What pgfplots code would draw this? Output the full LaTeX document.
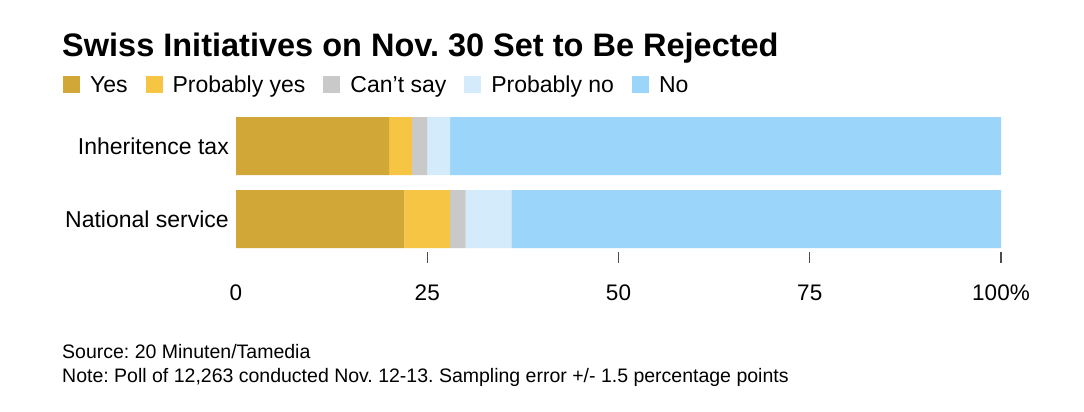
\documentclass[border=0pt]{standalone}
\usepackage{pgfplots}
\pgfplotsset{compat=1.18}
\usepackage{fontspec}
\setmainfont{Liberation Sans}
\frenchspacing
\definecolor{cyes}{HTML}{D1A738}
\definecolor{cpyes}{HTML}{F6C544}
\definecolor{ccs}{HTML}{C9C9C9}
\definecolor{cpno}{HTML}{D4EBFB}
\definecolor{cno}{HTML}{9BD5FA}
\begin{document}
\begin{tikzpicture}
\useasboundingbox (0,0) rectangle (1084bp,412bp);
\fill[white] (0,0) rectangle (1084bp,412bp);
\node[anchor=base west, inner sep=0pt, font=\fontsize{32.5bp}{36bp}\selectfont\bfseries] at (62bp,412bp-57bp) {Swiss Initiatives on Nov. 30 Set to Be Rejected};
\node[anchor=base west, inner sep=0pt, font=\fontsize{19.5bp}{23bp}\selectfont] at (62bp,412bp-359bp) {Source: 20 Minuten/Tamedia};
\node[anchor=base west, inner sep=0pt, font=\fontsize{19.5bp}{23bp}\selectfont] at (62bp,412bp-382bp) {Note: Poll of 12,263 conducted Nov. 12-13. Sampling error +/- 1.5 percentage points};
\begin{axis}[
  at={(236bp,160bp)}, anchor=south west,
  scale only axis, width=765bp, height=140bp,
  xbar stacked, bar width=58bp,
  xmin=0, xmax=100, ymin=-0.452, ymax=1.466,
  axis line style={draw=none},
  xtick pos=bottom,
  xtick={25,50,75,100},
  xticklabels={25,50,75,100\%},
  extra x ticks={0}, extra x tick labels={0},
  extra x tick style={major tick length=0pt, xticklabel style={yshift=-11bp}},
  tick align=outside,
  major tick length=11bp,
  x tick style={draw=black!70, line width=1.3bp},
  xticklabel style={font=\fontsize{22.5bp}{26bp}\selectfont, anchor=north, inner sep=0pt, yshift=-22bp},
  ytick={0,1}, yticklabels={National service, Inheritence tax},
  y tick style={draw=none}, ytick style={draw=none},
  yticklabel style={font=\fontsize{23bp}{27bp}\selectfont, anchor=east, inner sep=0pt, xshift=4bp},
  /pgf/number format/assume math mode=true,
  legend columns=5,
  legend image code/.code={\path[#1,draw=none] (0bp,-8.5bp) rectangle (17bp,8.5bp);},
  legend style={draw=none, fill=none, inner sep=0pt, outer sep=0pt,
    at={(-0.2261,1.193)}, anchor=west,
    font=\fontsize{23bp}{27bp}\selectfont,
    /tikz/every odd column/.append style={column sep=8bp},
    /tikz/every even column/.append style={column sep=16bp}},
]
\addplot[fill=cyes, draw=none] coordinates {(22,0) (20,1)};
\addplot[fill=cpyes, draw=none] coordinates {(6,0) (3,1)};
\addplot[fill=ccs, draw=none] coordinates {(2,0) (2,1)};
\addplot[fill=cpno, draw=none] coordinates {(6,0) (3,1)};
\addplot[fill=cno, draw=none] coordinates {(64,0) (72,1)};
\legend{Yes, Probably yes, Can't say, Probably no, No}
\end{axis}
\end{tikzpicture}
\end{document}
